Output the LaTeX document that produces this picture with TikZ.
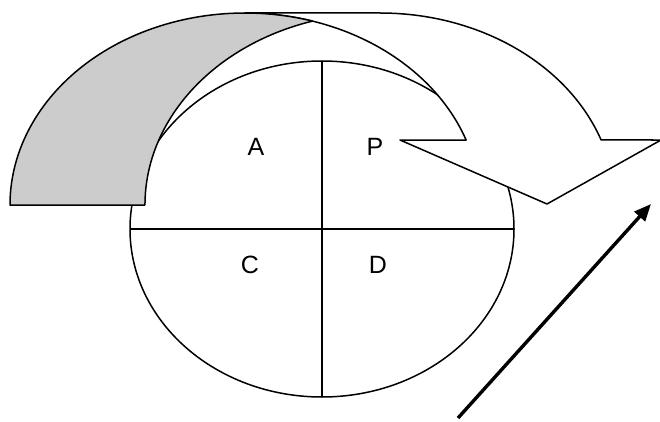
\documentclass[tikz,border=0pt]{standalone}
\usepackage{fontspec}
\setmainfont{Liberation Sans}
\usetikzlibrary{arrows.meta,shapes.geometric}
\definecolor{backgray}{RGB}{204,204,204}
\begin{document}
\begin{tikzpicture}[x=1pt,y=1pt,
  shapeline/.style={draw=black, line width=1.5pt, line join=round},
  lbl/.style={inner sep=0pt, font=\fontsize{25}{30}\selectfont},
  bigarrow/.style={draw=black, line width=3.4pt, -{Triangle[length=17pt,width=14pt]}}]
\useasboundingbox (0,0) rectangle (660,421);
% PDCA circle
\node[ellipse, shapeline, inner sep=0pt, outer sep=0pt,
      minimum width=384pt, minimum height=336pt] (pdca) at (322,192) {};
\draw[shapeline] (pdca.west) -- (pdca.east);
\draw[shapeline] (pdca.north) -- (pdca.south);
% curved arrow: front face
\filldraw[shapeline, fill=white] (547,217) -- (400,281) -- (466.1,281)
  arc[start angle=19.79, end angle=90, x radius=235, y radius=192]
  -- (380,408)
  arc[start angle=90, end angle=19.79, x radius=235, y radius=192]
  -- (661,281) -- cycle;
% curved arrow: back face (shaded)
\filldraw[shapeline, fill=backgray] (10,216)
  arc[start angle=180, end angle=73.31, x radius=235, y radius=192]
  arc[start angle=106.69, end angle=180, x radius=235, y radius=192]
  -- cycle;
% labels
\node[lbl] (A) at (256,274.5) {A};
\node[lbl] (P) at (375,274.5) {P};
\node[lbl] (C) at (250,156) {C};
\node[lbl] (D) at (378,156) {D};
% straight arrow
\coordinate (s) at (458,3);
\coordinate (t) at (651,217);
\draw[bigarrow] (s) -- (t);
\end{tikzpicture}
\end{document}
